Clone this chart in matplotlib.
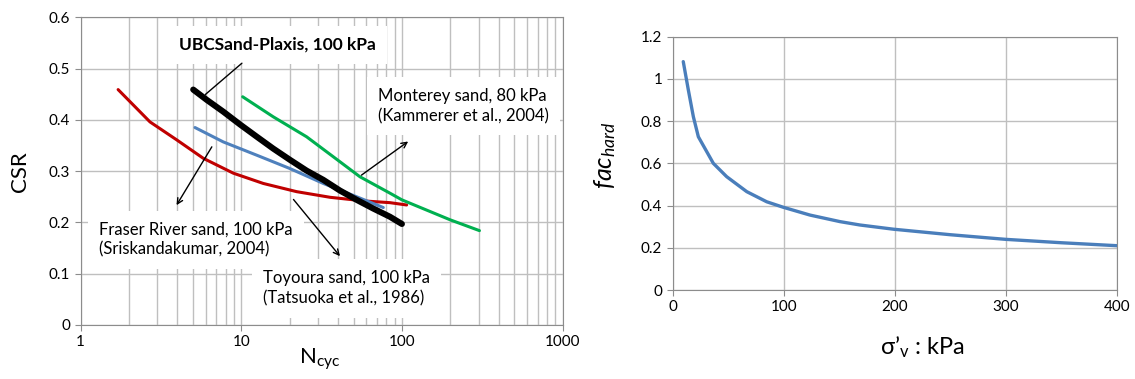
import numpy as np
import matplotlib
matplotlib.use("Agg")
import matplotlib.pyplot as plt
from matplotlib.ticker import FixedLocator, FixedFormatter, NullFormatter, LogLocator

plt.rcParams["font.family"] = ["Lato", "DejaVu Sans"]
plt.rcParams["mathtext.fontset"] = "custom"
plt.rcParams["mathtext.rm"] = "Lato"
plt.rcParams["mathtext.it"] = "Lato:italic"

# --- left chart: CSR vs number of cycles ---
fraser_n = [1.71, 2.70, 3.96, 5.80, 8.92, 13.7, 22.1, 35.7, 57.5, 84.4, 107]
fraser_csr = [0.459, 0.396, 0.361, 0.325, 0.296, 0.276, 0.260, 0.249, 0.242, 0.2385, 0.234]

ubc_n = [5.02, 6.09, 7.72, 9.82, 12.5, 15.8, 20.1, 25.5, 32.4, 41.2, 52.3, 66.4, 84.3, 100]
ubc_csr = [0.459, 0.439, 0.416, 0.391, 0.367, 0.344, 0.322, 0.301, 0.283, 0.262, 0.244, 0.227, 0.211, 0.197]

toyoura_n = [5.15, 7.72, 12.5, 20.1, 32.4, 52.3, 76.6]
toyoura_csr = [0.385, 0.357, 0.331, 0.305, 0.276, 0.250, 0.229]

monterey_n = [10.2, 15.8, 25.5, 37.4, 54.8, 84.3, 100, 200, 304]
monterey_csr = [0.445, 0.406, 0.367, 0.328, 0.289, 0.257, 0.244, 0.205, 0.184]

# --- right chart: fac_hard vs vertical stress ---
sigma_v = [9.5, 14.1, 18.6, 23.1, 36.6, 48.6, 66.7, 84.7, 99.6, 123.7, 150.7, 168.7, 199, 250, 300, 350, 400]
fac_hard = [1.082, 0.947, 0.821, 0.726, 0.600, 0.537, 0.466, 0.418, 0.392, 0.355, 0.324, 0.308, 0.288, 0.262, 0.240, 0.224, 0.210]

grid_color = "#bfbfbf"
spine_color = "#8c8c8c"

fig = plt.figure(figsize=(11.35, 3.79), dpi=100)
ax1 = fig.add_axes([0.0711, 0.1425, 0.4245, 0.8119])
ax2 = fig.add_axes([0.5927, 0.2348, 0.3912, 0.6683])

# left
ax1.plot(fraser_n, fraser_csr, color="#c00000", lw=2.2, solid_capstyle="round", zorder=3)
ax1.plot(toyoura_n, toyoura_csr, color="#4f81bd", lw=2.2, solid_capstyle="round", zorder=3)
ax1.plot(monterey_n, monterey_csr, color="#00b050", lw=2.2, solid_capstyle="round", zorder=3)
ax1.plot(ubc_n, ubc_csr, color="black", lw=4.4, solid_capstyle="round", solid_joinstyle="round", zorder=4)

ax1.set_xscale("log")
ax1.set_xlim(1, 1000)
ax1.set_ylim(0, 0.6)
ax1.xaxis.set_major_locator(FixedLocator([1, 10, 100, 1000]))
ax1.xaxis.set_major_formatter(FixedFormatter(["1", "10", "100", "1000"]))
ax1.xaxis.set_minor_locator(LogLocator(base=10, subs=np.arange(2, 10)))
ax1.xaxis.set_minor_formatter(NullFormatter())
ax1.set_yticks(np.arange(0, 0.61, 0.1))
ax1.set_yticklabels(["0", "0.1", "0.2", "0.3", "0.4", "0.5", "0.6"])
ax1.grid(True, which="both", axis="x", color=grid_color, lw=1)
ax1.grid(True, which="major", axis="y", color=grid_color, lw=1)
ax1.tick_params(which="major", direction="out", length=4, color=spine_color, labelsize=11)
ax1.tick_params(which="minor", length=0)
for s in ax1.spines.values():
    s.set_color(spine_color)
ax1.set_axisbelow(True)
ax1.set_ylabel("CSR", fontsize=16, va="center", ha="center")
ax1.yaxis.set_label_coords(-0.126, 0.5)
ax1.set_xlabel(r"N$_{\mathregular{cyc}}$", fontsize=16, va="center", ha="center")
ax1.xaxis.set_label_coords(0.496, -0.112)

ax1.annotate("", xy=(5.8, 0.446), xytext=(10.4, 0.514),
             arrowprops=dict(arrowstyle="-", color="black", lw=1), zorder=5)
ax1.annotate("", xy=(113, 0.361), xytext=(54.2, 0.289),
             arrowprops=dict(arrowstyle="->", color="black", lw=1), zorder=5)
ax1.annotate("", xy=(3.87, 0.229), xytext=(6.69, 0.352),
             arrowprops=dict(arrowstyle="->", color="black", lw=1), zorder=5)
ax1.annotate("", xy=(42.2, 0.130), xytext=(20.6, 0.249),
             arrowprops=dict(arrowstyle="->", color="black", lw=1), zorder=5)

box = dict(facecolor="white", edgecolor="none", pad=8)
ax1.text(4.07, 0.546, "UBCSand-Plaxis, 100 kPa", fontsize=12.5, fontweight="bold",
         va="center", ha="left", bbox=box, zorder=2)
ax1.text(71, 0.427, "Monterey sand, 80 kPa\n(Kammerer et al., 2004)", fontsize=12,
         va="center", ha="left", linespacing=1.3, bbox=box, zorder=2)
ax1.text(1.3, 0.166, "Fraser River sand, 100 kPa\n(Sriskandakumar, 2004)", fontsize=12,
         va="center", ha="left", linespacing=1.3, bbox=box, zorder=2)
ax1.text(13.6, 0.0715, "Toyoura sand, 100 kPa\n(Tatsuoka et al., 1986)", fontsize=12,
         va="center", ha="left", linespacing=1.3, bbox=box, zorder=2)

# right
ax2.plot(sigma_v, fac_hard, color="#4a7ebb", lw=2.4, solid_capstyle="round", zorder=3)
ax2.set_xlim(0, 400)
ax2.set_ylim(0, 1.2)
ax2.set_xticks([0, 100, 200, 300, 400])
ax2.set_yticks([0, 0.2, 0.4, 0.6, 0.8, 1.0, 1.2])
ax2.set_yticklabels(["0", "0.2", "0.4", "0.6", "0.8", "1", "1.2"])
ax2.grid(True, color=grid_color, lw=1)
ax2.tick_params(direction="out", length=4, color=spine_color, labelsize=11)
for s in ax2.spines.values():
    s.set_color(spine_color)
ax2.set_axisbelow(True)
ax2.set_ylabel(r"$fac_{hard}$", fontsize=18, va="center", ha="center")
ax2.yaxis.set_label_coords(-0.152, 0.533)
ax2.set_xlabel("σ’$_{\\mathregular{v}}$ : kPa", fontsize=17, va="center", ha="center")
ax2.xaxis.set_label_coords(0.5635, -0.224)

fig.savefig("out.png", dpi=100)
